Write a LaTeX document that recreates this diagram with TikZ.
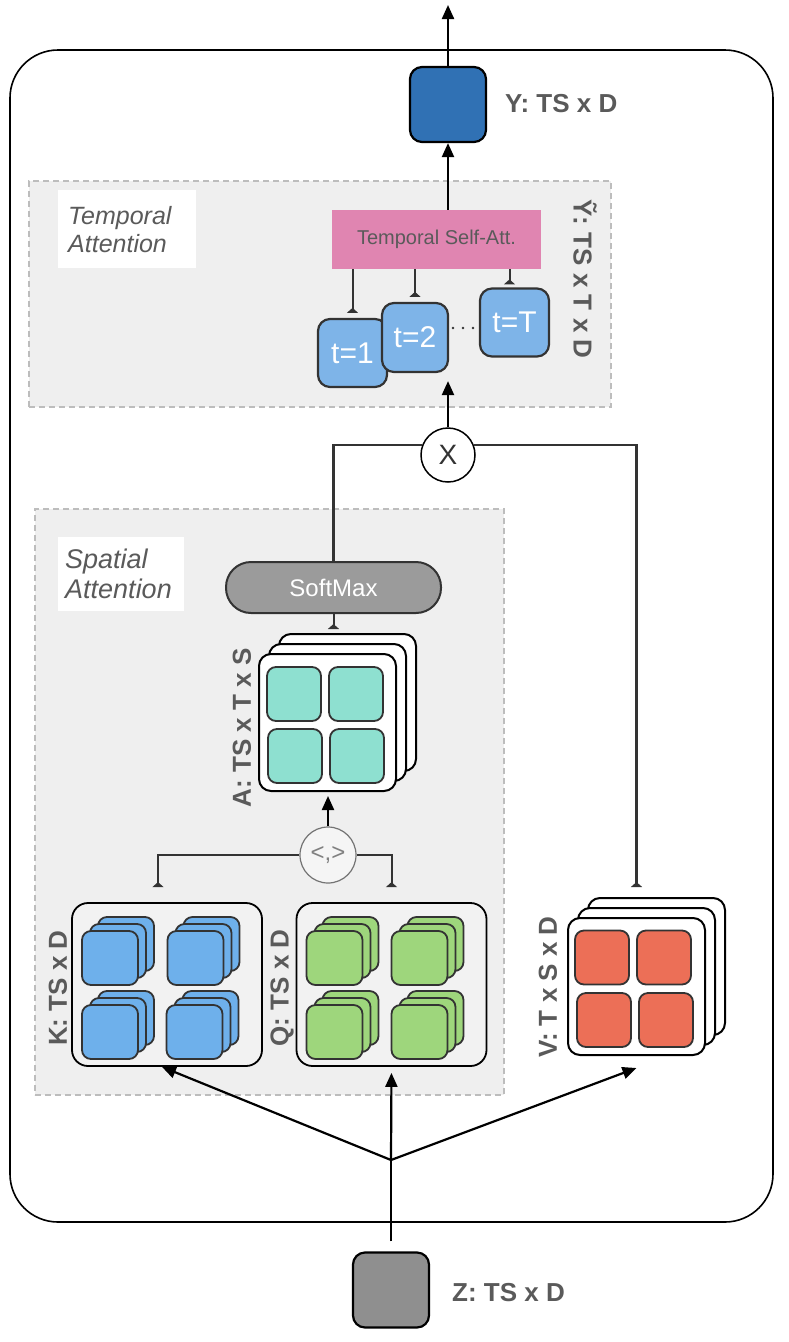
\documentclass[tikz,border=0pt]{standalone}
\usepackage{fontspec}
\setmainfont{Liberation Sans}
\usetikzlibrary{arrows.meta,calc}

\definecolor{ink}{HTML}{333333}
\definecolor{labgray}{HTML}{5A5A5A}
\definecolor{regionfill}{HTML}{EFEFEF}
\definecolor{regionline}{HTML}{BDBDBD}
\definecolor{yblue}{HTML}{3071B4}
\definecolor{pinkatt}{HTML}{E085B1}
\definecolor{tblue}{HTML}{7EB4E8}
\definecolor{smgray}{HTML}{9B9B9B}
\definecolor{teal}{HTML}{8EE0D0}
\definecolor{kblue}{HTML}{6EB0EB}
\definecolor{qgreen}{HTML}{9ED67C}
\definecolor{vred}{HTML}{EC6F57}
\definecolor{zgray}{HTML}{8F8F8F}

% a stack of three small tiles, front tile centred at (#2,#3)
\newcommand\tilestack[4]{%
  \node[cube, fill=#4] (#1-3) at (#2+16,#3-14) {};
  \node[cube, fill=#4] (#1-2) at (#2+8,#3-7) {};
  \node[cube, fill=#4] (#1-1) at (#2,#3) {};
}
% a stack of three white plates, front plate centred at (#2,#3)
\newcommand\platestack[3]{%
  \node[plate] (#1-3) at (#2+20,#3-20) {};
  \node[plate] (#1-2) at (#2+10,#3-10) {};
  \node[plate] (#1-1) at (#2,#3) {};
}

\begin{document}
\begin{tikzpicture}[x=1pt,y=-1pt,
  region/.style={draw=regionline, fill=regionfill, dashed, dash pattern=on 6pt off 4pt, line width=1.5pt, inner sep=0},
  caption/.style={fill=white, inner ysep=0, align=left, anchor=north west, text=labgray},
  dimlab/.style={font=\fontsize{26}{30}\selectfont\bfseries, text=labgray, inner sep=0},
  solid box/.style={draw=black, line width=2.2pt, rounded corners=12pt, minimum width=76pt, minimum height=75pt, inner sep=0},
  tbox/.style={draw=ink, fill=tblue, line width=2.2pt, rounded corners=12pt, minimum width=69pt, minimum height=68pt, inner sep=0, text=white, font=\fontsize{30}{32}\selectfont},
  cube/.style={draw=ink, line width=1.8pt, rounded corners=9pt, minimum width=56pt, minimum height=54pt, inner sep=0},
  plate/.style={draw=black, fill=white, line width=2pt, rounded corners=12pt, minimum width=137pt, minimum height=137pt, inner sep=0},
  cell/.style={draw=ink, line width=1.8pt, rounded corners=9pt, minimum width=54pt, minimum height=54pt, inner sep=0},
  group/.style={draw=black, fill=white!95!black, line width=1.8pt, rounded corners=16pt, minimum width=190pt, minimum height=163pt, inner sep=0},
  main/.style={draw=black, line width=2.2pt, -{Triangle[length=14pt,width=12pt]}},
  tee/.style={draw=ink, line width=2pt, -{Triangle[reversed,length=5pt,width=11pt]}},
  plainline/.style={draw=ink, line width=2.2pt}
]
\useasboundingbox (0,0) rectangle (788,1342);

% outer frame of the block
\draw[line width=1.6pt, rounded corners=48pt] (10,50) rectangle (773,1222);

% dashed regions
\node[region, minimum width=582pt, minimum height=226pt, anchor=north west] (tregion) at (28,180) {};
\node[region, minimum width=469pt, minimum height=586pt, anchor=north west] (sregion) at (34,508) {};

% region captions
\node[caption, minimum width=138pt, minimum height=78pt, inner xsep=10pt, text width=118pt,
      font=\fontsize{25}{28}\selectfont\itshape] (tcap) at (58,190) {Temporal\\Attention};
\node[caption, minimum width=126pt, minimum height=74pt, inner xsep=7pt, text width=112pt,
      font=\fontsize{27}{30}\selectfont\itshape] (scap) at (58,537) {Spatial\\Attention};

% output
\node[solid box, fill=yblue] (ybox) at (448,104.5) {};
\node[dimlab, anchor=west] (ylab) at (505,104) {Y: TS x D};
\coordinate (out) at (448,5);

% temporal attention
\node[fill=pinkatt, minimum width=209pt, minimum height=59pt, inner sep=0, text=labgray,
      font=\fontsize{20}{22}\selectfont] (pink) at (436.5,239.5) {Temporal Self-Att.};
\node[tbox] (t1) at (352.5,353) {t=1};
\node[tbox, minimum width=66pt, minimum height=69pt] (t2) at (415,337.5) {t=2};
\node[tbox] (tT) at (514.5,322.5) {t=T};
\foreach \dx in {0,10,20} \fill[ink] (453+\dx,328) circle (1.3pt);
\node[dimlab, rotate=-90] (ytlab) at (585,279) {Ỹ: TS x T x D};

% multiplication
\node[circle, draw=black, fill=white, line width=1.5pt, minimum size=54pt, inner sep=0,
      text=ink, font=\fontsize{28}{30}\selectfont] (xmul) at (448,455) {X};

% spatial attention
\node[draw=ink, fill=smgray, line width=2pt, rounded corners=25pt, minimum width=215pt,
      minimum height=51pt, inner sep=0, text=white, font=\fontsize{24}{26}\selectfont] (softmax) at (333.5,587.5) {SoftMax};

\platestack{a}{327.5}{722.5}
\node[cell, fill=teal] (a11) at (294,694) {};
\node[cell, fill=teal] (a12) at (356,694) {};
\node[cell, fill=teal] (a21) at (295,756) {};
\node[cell, fill=teal] (a22) at (357,756) {};
\node[dimlab, rotate=90] (alab) at (242,728) {A: TS x T x S};

\node[circle, draw=black!55, fill=white!96!black, line width=1.2pt, minimum size=56pt, inner sep=0,
      text=black!50, font=\fontsize{24}{26}\selectfont] (ip) at (328,855) {<,>};

\node[group] (kbox) at (167,984.5) {};
\tilestack{k11}{110}{958}{kblue}
\tilestack{k12}{195.5}{958}{kblue}
\tilestack{k21}{110}{1032}{kblue}
\tilestack{k22}{194.5}{1032}{kblue}
\node[dimlab, rotate=90] (klab) at (58,988) {K: TS x D};

\node[group] (qbox) at (391.5,984.5) {};
\tilestack{q11}{334.5}{958}{qgreen}
\tilestack{q12}{419.5}{958}{qgreen}
\tilestack{q21}{334.5}{1032}{qgreen}
\tilestack{q22}{419.5}{1032}{qgreen}
\node[dimlab, rotate=90] (qlab) at (282,988) {Q: TS x D};

% values
\platestack{v}{636.5}{986.5}
\node[cell, fill=vred] (v11) at (602,957.5) {};
\node[cell, fill=vred] (v12) at (664,957.5) {};
\node[cell, fill=vred] (v21) at (604,1020) {};
\node[cell, fill=vred] (v22) at (666,1020) {};
\node[dimlab, rotate=90] (vlab) at (548,987) {V: T x S x D};

% input
\node[solid box, fill=zgray] (zbox) at (391,1290) {};
\node[dimlab, anchor=west] (zlab) at (452,1293) {Z: TS x D};
\coordinate (split) at (391,1160);

% connectors
\draw[main] (ybox.north) -- (out);
\draw[main] (pink.north -| ybox.south) -- (ybox.south);
\draw[tee, shorten >=5pt] (pink.south -| t1.north) -- (t1.north);
\draw[tee, shorten >=5pt] (pink.south -| t2.north) -- (t2.north);
\draw[tee, shorten >=3pt] ($(pink.south -| tT.north)+(-5,0)$) -- ($(tT.north)+(-5,0)$);
\draw[main, shorten >=8pt] (xmul.north) -- (xmul.north |- t2.south);
\draw[plainline] (xmul.158) -| (softmax.north);
\draw[tee, line width=2.2pt, shorten >=30pt] (xmul.22) -| (v-1.north);
\draw[tee, shorten >=4pt] (softmax.south) -- (softmax.south |- a-3.north);
\draw[main, shorten >=4pt] (ip.north) -- (ip.north |- a-1.south);
\draw[tee, shorten >=15pt] (ip.west) -| ($(kbox.north)+(-9,0)$);
\draw[tee, shorten >=15pt] (ip.east) -| (qbox.north);
\draw[plainline, draw=black, shorten <=10pt] (zbox.north) -- (split);
\draw[main] (split) -- ($(kbox.south)+(-5,0)$);
\draw[main, shorten >=6pt] (split) -- (qbox.south);
\draw[main] (split) -- ($(v-1.south)+(0,12)$);
\end{tikzpicture}
\end{document}
